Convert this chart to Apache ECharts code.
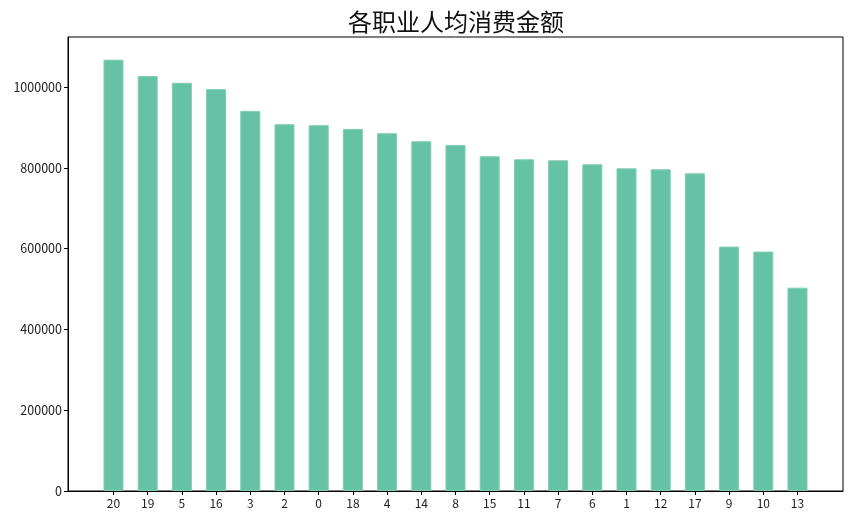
<!DOCTYPE html>
<html lang="zh">
<head>
    <meta charset="UTF-8">
    <title>各职业人均消费金额</title>
    <script src="https://cdn.jsdelivr.net/npm/echarts@6.0.0/dist/echarts.min.js"></script>
    <style>
        html, body { margin: 0; padding: 0; background: #fff; }
        #main { width: 856px; height: 523px; }
    </style>
</head>
<body>
<div id="main"></div>
<script type="text/javascript">
    // 职业编号（已按人均消费降序排列）
    var occupations = ['20', '19', '5', '16', '3', '2', '0', '18', '4', '14', '8',
                       '15', '11', '7', '6', '1', '12', '17', '9', '10', '13'];
    // 人均消费金额
    var avgSpend = [1067800, 1027300, 1010700, 995000, 941100, 908000, 905600, 896500,
                    885700, 865900, 856700, 828700, 821200, 818700, 808800, 798800,
                    796400, 786400, 605100, 592700, 503400];
    // y 轴刻度
    var yTicks = [0, 200000, 400000, 600000, 800000, 1000000];

    var positions = occupations.map(function (name, i) { return i; });
    var barData = avgSpend.map(function (v, i) { return [i, v]; });

    var font = '"Noto Sans CJK SC", "DejaVu Sans", sans-serif';
    var myChart = echarts.init(document.getElementById('main'));
    myChart.setOption({
        animation: false,
        title: {
            text: '各职业人均消费金额',
            left: 343,
            top: 5,
            textStyle: { fontFamily: font, fontSize: 24, fontWeight: 'normal', color: '#111' }
        },
        grid: {
            left: 68, right: 13, top: 37, bottom: 32,
            show: true, borderColor: '#000', borderWidth: 1, backgroundColor: 'transparent'
        },
        xAxis: {
            type: 'value',
            min: -1.33,
            max: 21.33,
            splitLine: { show: false },
            axisLine: { onZero: false, lineStyle: { color: '#000' } },
            axisTick: { show: true, length: 4, lineStyle: { color: '#000' }, customValues: positions },
            axisLabel: {
                customValues: positions,
                color: '#222', fontFamily: font, fontSize: 12, margin: 6,
                formatter: function (v) { return occupations[Math.round(v)]; }
            }
        },
        yAxis: {
            type: 'value',
            min: 0,
            max: 1124000,
            splitLine: { show: false },
            axisLine: { show: true, onZero: false, lineStyle: { color: '#000' } },
            axisTick: { show: true, length: 4, lineStyle: { color: '#000' }, customValues: yTicks },
            axisLabel: {
                customValues: yTicks, color: '#222', fontFamily: font, fontSize: 12.5, margin: 6,
                formatter: function (v) { return String(v); }
            }
        },
        series: [{
            type: 'bar',
            data: barData,
            barWidth: 20,
            itemStyle: { color: '#66c2a5', borderColor: '#7fcdb3', borderWidth: 1 }
        }]
    });
</script>
</body>
</html>
